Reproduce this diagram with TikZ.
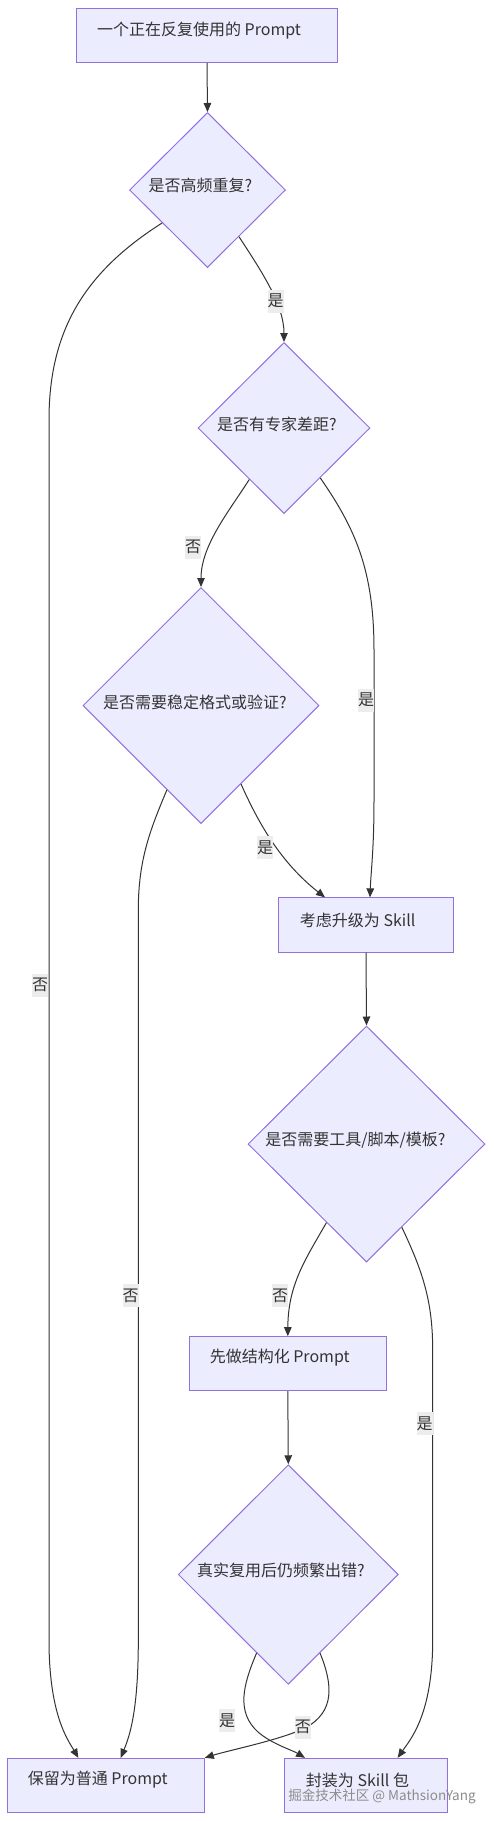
\documentclass[tikz,border=0pt]{standalone}
\usepackage{fontspec}
\setmainfont{Noto Sans CJK SC}
\usetikzlibrary{shapes.geometric,arrows.meta}
\definecolor{nodefill}{HTML}{ECECFF}
\definecolor{nodeline}{HTML}{9370DB}
\definecolor{edgec}{HTML}{333333}
\definecolor{lblbg}{HTML}{EDEDED}
\definecolor{txtc}{HTML}{333333}
\definecolor{wmark}{HTML}{8C8C8C}
\begin{document}
\begin{tikzpicture}[x=1pt,y=-1pt,
  boxnode/.style={rectangle, draw=nodeline, fill=nodefill, line width=1pt, inner sep=0pt},
  dianode/.style={diamond, draw=nodeline, fill=nodefill, line width=1pt, inner sep=0pt},
  txt/.style={text=txtc, font=\fontsize{16pt}{19pt}\selectfont, inner sep=0pt},
  elbl/.style={fill=lblbg, text=txtc, font=\fontsize{16pt}{19pt}\selectfont, inner sep=0pt, minimum width=16pt, minimum height=23pt},
  conn/.style={draw=edgec, line width=1pt, -{Triangle[length=9pt,width=7.5pt]}}
]
\useasboundingbox[fill=white] (0,0) rectangle (493,1821);

% nodes
\node[boxnode, minimum width=260.6pt, minimum height=54.3pt] (A) at (207,35.2) {};
\node[dianode, minimum width=156pt, minimum height=155pt] (B) at (207.5,190) {};
\node[dianode, minimum width=172pt, minimum height=171pt] (C) at (284,428) {};
\node[dianode, minimum width=236pt, minimum height=236pt] (D) at (201,705.5) {};
\node[boxnode, minimum width=175.4pt, minimum height=54.3pt] (E) at (366,925) {};
\node[dianode, minimum width=237pt, minimum height=236pt] (F) at (366.5,1144) {};
\node[boxnode, minimum width=197pt, minimum height=54pt] (H) at (287.8,1363.7) {};
\node[dianode, minimum width=220pt, minimum height=219.5pt] (J) at (288.3,1574.5) {};
\node[boxnode, minimum width=196.6pt, minimum height=54.4pt] (G) at (106,1785.5) {};
\node[boxnode, minimum width=163.4pt, minimum height=54.4pt] (I) at (366,1785.5) {};

% node texts
\node[txt] (At) at (199,30.7) {一个正在反复使用的 Prompt};
\node[txt] (Bt) at (200.3,185) {是否高频重复?};
\node[txt] (Ct) at (277,424) {是否有专家差距?};
\node[txt] (Dt) at (195,702.7) {是否需要稳定格式或验证?};
\node[txt] (Et) at (357.7,920.7) {考虑升级为 Skill};
\node[txt] (Ft) at (355.5,1140) {是否需要工具/脚本/模板?};
\node[txt] (Ht) at (279.7,1358) {先做结构化 Prompt};
\node[txt] (Jt) at (281,1570.7) {真实复用后仍频繁出错?};
\node[txt] (Gt) at (97.8,1780) {保留为普通 Prompt};
\node[txt] (It) at (357.5,1780) {封装为 Skill 包};

% connectors
\draw[conn] (A.south) -- (B.north);
\draw[conn] (B.-56.6) .. controls (262,272) and (284,305) .. (C.north);
\draw[conn] (B.-144.5) .. controls (85,272) and (49,330) .. (49,420) -- (49,1640) .. controls (49,1715) and (68,1740) .. ([xshift=-27.7pt]G.north);
\draw[conn] (C.-124) .. controls (230,510) and (201,545) .. (D.north);
\draw[conn] (C.-54) .. controls (355,528) and (374,570) .. (374,650) -- (374,800) .. controls (374,850) and (371,870) .. ([xshift=4pt]E.north);
\draw[conn] (D.-63.7) .. controls (258,822) and (280,862) .. ([xshift=-41pt]E.north);
\draw[conn] (D.-112) .. controls (150,830) and (138.3,860) .. (138.3,910) -- (138.3,1640) .. controls (138.3,1710) and (130,1735) .. ([xshift=14.7pt]G.north);
\draw[conn] (E.south) -- (F.north);
\draw[conn] (F.-117) .. controls (305,1260) and (288,1285) .. (H.north);
\draw[conn] (F.-67.3) .. controls (422,1270) and (432.7,1300) .. (432.7,1350) -- (432.7,1640) .. controls (432.7,1715) and (410,1740) .. ([xshift=31.7pt]I.north);
\draw[conn] (H.south) -- (J.north);
\draw[conn] (J.-112) .. controls (243,1685) and (236,1712) .. (258,1732) .. controls (272,1744) and (292,1750) .. ([xshift=-61pt]I.north);
\draw[conn] (J.-68) .. controls (333,1685) and (335,1712) .. (305,1728) .. controls (280,1740) and (230,1750) .. (G.north east);

% edge labels
\node[elbl] (l1) at (275.5,301) {是};
\node[elbl] (l2) at (40,985) {否};
\node[elbl] (l3) at (193,547) {否};
\node[elbl] (l4) at (366,700) {是};
\node[elbl] (l5) at (265,847.3) {是};
\node[elbl] (l6) at (130.5,1295.7) {否};
\node[elbl] (l7) at (280,1295.7) {否};
\node[elbl] (l8) at (424.7,1423.7) {是};
\node[elbl] (l9) at (227.2,1720.3) {是};
\node[elbl] (l10) at (302.8,1727) {否};

% watermark
\node[text=wmark, font=\fontsize{13.5pt}{16pt}\selectfont, inner sep=0pt] (wm) at (382,1796.7) {掘金技术社区 @ MathsionYang};
\end{tikzpicture}
\end{document}
